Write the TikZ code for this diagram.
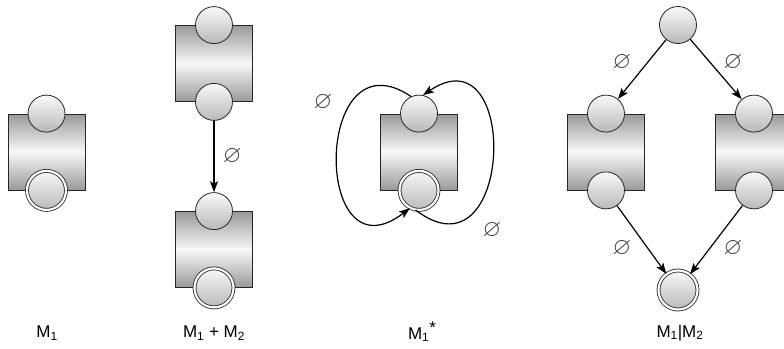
\documentclass[tikz,border=0pt]{standalone}
\usepackage{fontspec}
\setmainfont{Liberation Sans}
\usepackage{amssymb}
\usetikzlibrary{arrows.meta,positioning}

\tikzset{
  box/.style={draw=black!85, line width=0.8pt, minimum width=77pt, minimum height=76pt,
    inner sep=0pt, top color=gray!80, bottom color=gray!80, middle color=gray!5},
  port/.style={circle, draw=black!85, line width=0.8pt, minimum size=37pt, inner sep=0pt,
    top color=gray!5, bottom color=gray!55},
  final/.style={port, double, double distance=2.2pt, minimum size=39pt},
  arr/.style={-{Stealth[length=11pt,width=8pt,inset=2.5pt]}, line width=1.2pt},
  nul/.style={font=\fontsize{24}{24}\selectfont, text=black!75},
  caption/.style={font=\fontsize{17}{19}\selectfont}
}

\begin{document}
\begin{tikzpicture}[x=1pt,y=-1pt]
  \useasboundingbox (0,0) rectangle (784,348);
  \clip (0,0) rectangle (784,348);

  % M_1 alone
  \node [box] (m1) at (46.5,152) {};
  \node [port] (m1in) at (m1.north) {};
  \node [final] (m1out) at (m1.south) {};
  \node [caption] (cap1) at (47,333) {M\textsubscript{1}};

  % M_1 + M_2 : sequence
  \node [box] (m2a) at (214,63.5) {};
  \node [port] (m2ain) at (m2a.north) {};
  \node [port] (m2aout) at (m2a.south) {};
  \node [box] (m2b) at (214,249.5) {};
  \node [port] (m2bin) at (m2b.north) {};
  \node [final] (m2bout) at (m2b.south) {};
  \draw [arr] (m2aout) -- (m2bin) node [nul, midway, right=5pt] {$\varnothing$};
  \node [caption] (cap2) at (214,333) {M\textsubscript{1} + M\textsubscript{2}};

  % M_1^* : the two loops cross under the final state
  \node [box] (m3) at (419,152) {};
  \node [port] (m3in) at (m3.north) {};
  \node [final] (m3out) at (m3.south) {};
  \draw [arr] (m3in.115) .. controls +(-98,-66) and +(-98,75) .. (m3out.-117);
  \draw [arr] (m3out.-100) .. controls +(98,75) and +(98,-66) .. (m3in.78);
  \node [nul] (e3a) at (323,102) {$\varnothing$};
  \node [nul] (e3b) at (492,230) {$\varnothing$};
  \node [caption, anchor=base] (cap3) at (422,339) {M\textsubscript{1}\raisebox{6pt}{*}};

  % M_1 | M_2 : choice
  \node [port] (m4in) at (678,25) {};
  \node [box] (m4a) at (606,152) {};
  \node [port] (m4ain) at (m4a.north) {};
  \node [port] (m4aout) at (m4a.south) {};
  \node [box] (m4b) at (754,152) {};
  \node [port] (m4bin) at (m4b.north) {};
  \node [port] (m4bout) at (m4b.south) {};
  \node [final] (m4out) at (678,290) {};
  \draw [arr] (m4in) -- (m4ain);
  \draw [arr] (m4in) -- (m4bin);
  \draw [arr] (m4aout) -- (m4out);
  \draw [arr] (m4bout) -- (m4out);
  \node [nul] (e4a) at (622,62) {$\varnothing$};
  \node [nul] (e4b) at (733,62) {$\varnothing$};
  \node [nul] (e4c) at (622,248) {$\varnothing$};
  \node [nul] (e4d) at (733,248) {$\varnothing$};
  \node [caption] (cap4) at (680,333) {M\textsubscript{1}|M\textsubscript{2}};
\end{tikzpicture}
\end{document}
